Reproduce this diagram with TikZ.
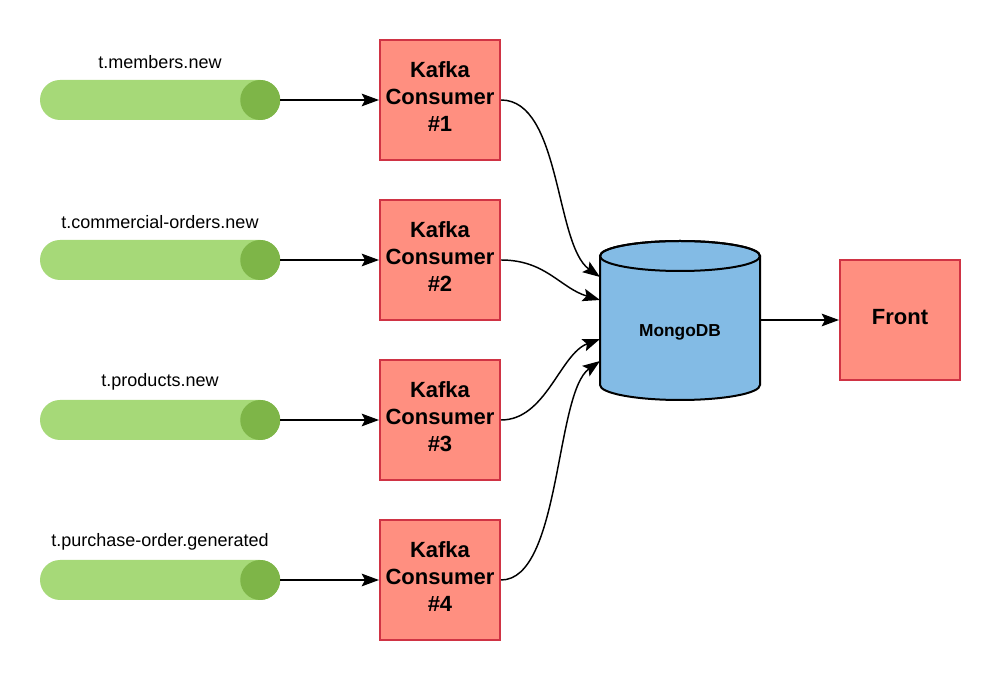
\documentclass[tikz,border=0pt]{standalone}
\usepackage{fontspec}
\setmainfont{Liberation Sans}
\usetikzlibrary{arrows.meta,calc}
\definecolor{topiclight}{HTML}{A6D978}
\definecolor{topicdark}{HTML}{7EB548}
\definecolor{boxfill}{HTML}{FF8F80}
\definecolor{boxline}{HTML}{D03344}
\definecolor{dbfill}{HTML}{83BBE5}
% lift the box text a little, as the reference does
\newcommand{\liftup}[1]{\raisebox{0.75pt}[\height][\depth]{%
  \begin{tabular}{@{}c@{}}#1\end{tabular}}}
\tikzset{
  topic/.style={fill=topiclight, rounded corners=15pt, minimum width=180pt,
    minimum height=30pt, inner sep=0pt},
  topicend/.style={circle, fill=topicdark, minimum size=30pt, inner sep=0pt},
  topiclabel/.style={font=\fontsize{13.5}{15}\selectfont},
  consumer/.style={draw=boxline, fill=boxfill, line width=1.5pt,
    minimum width=90pt, minimum height=90pt, inner sep=0pt,
    font=\bfseries\fontsize{16.5}{20.25}\selectfont},
  feed/.style={-{Stealth[length=13pt,width=9.5pt,inset=2.5pt]}, line width=1.1pt}
}

\begin{document}
\begin{tikzpicture}[x=0.75pt,y=-0.75pt]
\useasboundingbox (0,0) rectangle (1000,680);

% topics
\node[topic] (t1) at (160,100) {};
\node[topicend] (e1) at ($(t1.east)+(-20,0)$) {};
\node[topiclabel] (l1) at (160,62) {t.members.new};

\node[topic] (t2) at (160,260) {};
\node[topicend] (e2) at ($(t2.east)+(-20,0)$) {};
\node[topiclabel] (l2) at (160,222) {t.commercial-orders.new};

\node[topic] (t3) at (160,420) {};
\node[topicend] (e3) at ($(t3.east)+(-20,0)$) {};
\node[topiclabel] (l3) at (160,382) {t.products.new};

\node[topic] (t4) at (160,580) {};
\node[topicend] (e4) at ($(t4.east)+(-20,0)$) {};
\node[topiclabel] (l4) at (160,542) {t.purchase-order.generated};

% consumers
\node[consumer] (c1) at (440,100) {\liftup{Kafka\\Consumer\\\#1}};
\node[consumer] (c2) at (440,260) {\liftup{Kafka\\Consumer\\\#2}};
\node[consumer] (c3) at (440,420) {\liftup{Kafka\\Consumer\\\#3}};
\node[consumer] (c4) at (440,580) {\liftup{Kafka\\Consumer\\\#4}};

\draw[feed] (t1.east) -- (c1.west);
\draw[feed] (t2.east) -- (c2.west);
\draw[feed] (t3.east) -- (c3.west);
\draw[feed] (t4.east) -- (c4.west);

% database
\draw[fill=dbfill, line width=1.5pt] (600,256) -- (600,385)
  arc[start angle=180, end angle=360, x radius=60pt, y radius=11.25pt]
  -- (760,256)
  arc[start angle=0, end angle=180, x radius=60pt, y radius=11.25pt] -- cycle;
\draw[line width=1.5pt] (680,256) ellipse[x radius=60pt, y radius=11.25pt];
\node[font=\bfseries\fontsize{13}{15}\selectfont] (mongo) at (680,332) {MongoDB};
\coordinate (in1) at (600,277);
\coordinate (in2) at (600,300);
\coordinate (in3) at (600,339);
\coordinate (in4) at (600,361);
\coordinate (dbout) at (760,320);

\draw[feed] (c1.east) .. controls +(60,0) and +(-45,-32) .. (in1);
\draw[feed] (c2.east) .. controls +(45,0) and +(-40,-12) .. (in2);
\draw[feed] (c3.east) .. controls +(45,0) and +(-40,15) .. (in3);
\draw[feed] (c4.east) .. controls +(60,0) and +(-45,32) .. (in4);

% front
\node[consumer] (front) at (900,320) {\liftup{Front}};
\draw[feed] (dbout) -- (front.west);
\end{tikzpicture}
\end{document}
